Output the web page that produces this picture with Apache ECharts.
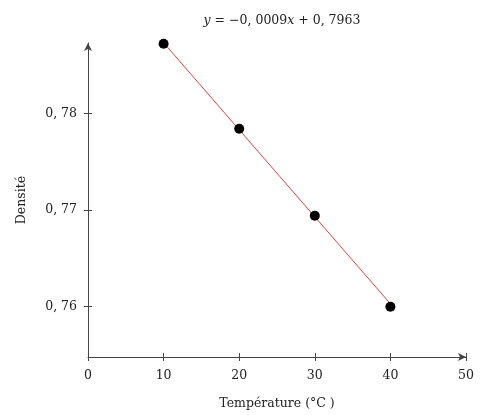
<!DOCTYPE html>
<html><head><meta charset="utf-8">
<script src="https://cdn.jsdelivr.net/npm/echarts@6/dist/echarts.min.js"></script>
<style>html,body{margin:0;padding:0;background:#fff}#c{width:485px;height:415px}</style>
</head><body><div id="c"></div>
<script>
const temperatures = [10, 20, 30, 40];
const densities = [0.7872, 0.7784, 0.7694, 0.7600];
const fitX = [10, 40];
const fitY = [0.7873, 0.7603];
const xTicks = [0, 10, 20, 30, 40, 50];
const yTicks = [0.76, 0.77, 0.78];

const font = 'DejaVu Serif';
const fs = 12.5;
const fmt = v => String(Math.round(v * 100) / 100).replace('.', ', ');
const chart = echarts.init(document.getElementById('c'));
const axisCol = '#444';
chart.setOption({
  animation: false,
  backgroundColor: '#fff',
  title: {
    text: '{i|y} = \u22120, 0009{i|x} + 0, 7963',
    left: 277, top: 9, textAlign: 'center',
    textStyle: { fontFamily: font, fontSize: fs, fontWeight: 'normal', color: '#222',
      rich: { i: { fontFamily: font, fontStyle: 'italic', fontSize: fs, color: '#222' } } }
  },
  grid: { left: 88, right: 19, top: 43, bottom: 58 },
  xAxis: [{
    type: 'value', min: 0, max: 50, interval: 10,
    name: 'Température (°C )', nameLocation: 'middle', nameGap: 40,
    nameTextStyle: { fontFamily: font, fontSize: fs, color: '#222' },
    axisLine: { show: true, lineStyle: { color: axisCol, width: 1 }, symbol: ['none', 'arrow'], symbolSize: [6, 8] },
    axisTick: { show: true, length: 4, lineStyle: { color: axisCol } },
    axisLabel: { fontFamily: font, fontSize: fs, color: '#222', margin: 12 },
    splitLine: { show: false }
  }, {
    type: 'value', min: 0, max: 50, interval: 10, position: 'bottom', offset: 0,
    axisLine: { show: false },
    axisTick: { show: true, inside: true, length: 4, lineStyle: { color: axisCol } },
    axisLabel: { show: false }, splitLine: { show: false }
  }],
  yAxis: [{
    type: 'value', min: 0.7548, max: 0.78727,
    name: 'Densité', nameLocation: 'middle', nameGap: 60, nameRotate: 90,
    nameTextStyle: { fontFamily: font, fontSize: fs, color: '#222' },
    axisLine: { show: true, lineStyle: { color: axisCol, width: 1 }, symbol: ['none', 'arrow'], symbolSize: [6, 8] },
    axisTick: { show: true, length: 4, lineStyle: { color: axisCol }, customValues: yTicks },
    axisLabel: { fontFamily: font, fontSize: fs, color: '#222', margin: 11, customValues: yTicks, formatter: fmt },
    splitLine: { show: false }
  }, {
    type: 'value', min: 0.7548, max: 0.78727, position: 'left', offset: 0,
    axisLine: { show: false },
    axisTick: { show: true, inside: true, length: 4, lineStyle: { color: axisCol }, customValues: yTicks },
    axisLabel: { show: false, customValues: yTicks }, splitLine: { show: false }
  }],
  series: [{
    type: 'line', data: fitX.map((x, i) => [x, fitY[i]]),
    showSymbol: false, lineStyle: { color: '#e8413a', width: 1 }, z: 2, silent: true
  }, {
    type: 'scatter', data: temperatures.map((x, i) => [x, densities[i]]),
    symbol: 'circle', symbolSize: 10, itemStyle: { color: '#000', opacity: 1 }, z: 3
  }]
});
</script></body></html>
